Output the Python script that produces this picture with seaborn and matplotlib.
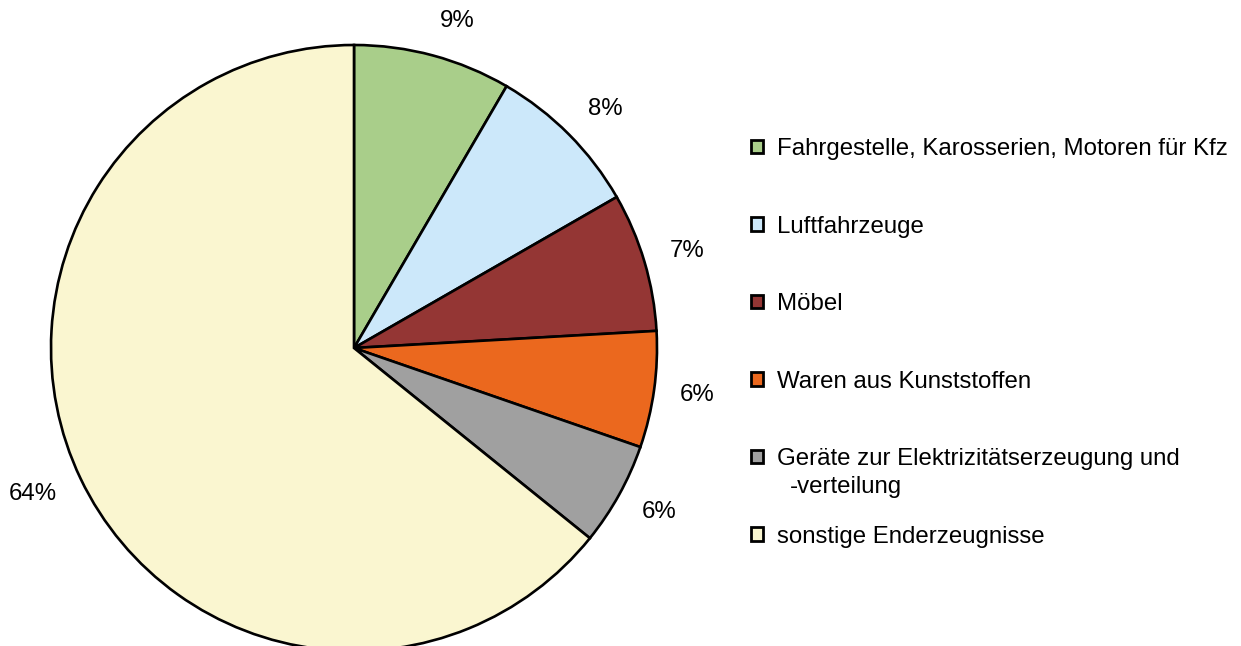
import seaborn as sns
import matplotlib.pyplot as plt

# Anteile der Warengruppen
categories = ['Fahrgestelle, Karosserien, Motoren für Kfz',
              'Luftfahrzeuge',
              'Möbel',
              'Waren aus Kunststoffen',
              'Geräte zur Elektrizitätserzeugung und -verteilung',
              'sonstige Enderzeugnisse']
shares = [8.4, 8.3, 7.4, 6.2, 5.5, 64.2]
share_labels = ['9%', '8%', '7%', '6%', '6%', '64%']
colors = ['#A9CE8A', '#CCE8FA', '#943634', '#EB681E', '#A0A0A0', '#FAF6D0']

sns.set_style('white')
plt.rcParams['font.family'] = ['Liberation Sans', 'DejaVu Sans']
plt.rcParams['text.color'] = 'black'
fs = 17.3

fig = plt.figure(figsize=(12.41, 6.46), dpi=100)
W, H = 1241, 646
R = 303
cx, cy = 354, 646 - 348
half = R * 1.2
ax = fig.add_axes([(cx - half) / W, (cy - half) / H, 2 * half / W, 2 * half / H])

wedges, texts = ax.pie(shares, labels=share_labels, colors=colors,
                       startangle=90, counterclock=False,
                       labeldistance=1.087,
                       wedgeprops={'edgecolor': 'black', 'linewidth': 1.9},
                       textprops={'fontsize': fs, 'va': 'center'})
# Beschriftungen wie in Excel: oben/unten etwas weiter nach außen
for t in texts:
    x, y = t.get_position()
    t.set_y(y + 0.028 * y)

ax.set_xlim(-1.2, 1.2)
ax.set_ylim(-1.2, 1.2)
ax.set_aspect('equal')
ax.axis('off')

# Legende: lange Bezeichnung auf zwei Zeilen wie im Original
legend_names = [c.replace(' -verteilung', '') for c in categories]
leg = fig.legend(wedges, legend_names, loc='upper left',
                 bbox_to_anchor=(751 / W, 1 - 138 / H),
                 frameon=False, fontsize=fs,
                 handlelength=0.5, handleheight=0.5, handletextpad=0.6,
                 labelspacing=2.31, borderaxespad=0, borderpad=0)
for h in leg.legend_handles:
    h.set_linewidth(2)

# zweite Zeile unter den Legendentext setzen
fig.canvas.draw()
bb = leg.get_texts()[4].get_window_extent()
fig.text((bb.x0 + 12) / W, (bb.y0 - 6) / H, '-verteilung',
         fontsize=fs, va='top', ha='left')

fig.savefig('out.png', dpi=100)
